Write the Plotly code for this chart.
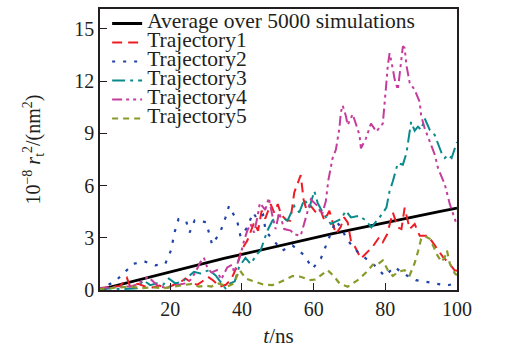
import plotly.graph_objects as go

# ---------------- data ----------------
avg_t = [0, 5, 10, 15, 20, 25, 30, 35, 40, 45, 50, 55, 60, 65, 70, 75, 80, 85, 90, 95, 100]
avg_v = [0.0, 0.26, 0.53, 0.80, 1.06, 1.32, 1.57, 1.82, 2.05, 2.29, 2.53, 2.77, 3.0, 3.22, 3.44, 3.66, 3.87, 4.08, 4.29, 4.50, 4.70]

tr1_t = [0, 3, 6, 7.9, 8.8, 11, 13, 15, 17, 19, 21, 22.5, 24.2, 25.8, 27.5, 29, 30.5, 32, 33.8, 35.5, 37,
         38.5, 39.8, 41.5, 43.4, 44.5, 45.5, 46.5, 48, 49, 50, 51, 52.5, 53.5, 54.6, 56.4, 57.2, 58, 59.2,
         61, 62, 63, 64.4, 66.2, 67.5, 68.5, 69.5, 70.4, 71.5, 73.2, 75.1, 76.5, 78.3, 79.3, 80.5, 82.1,
         83.5, 84.5, 85.4, 86.8, 88.2, 89.6, 91.9, 94.5, 96.1, 97.5, 99.3, 100]
tr1_v = [0.1, 0.15, 0.23, 0.7, 0.2, 0.35, 0.2, 0.15, 0.25, 0.1, 0.3, 0.4, 0.66, 0.45, 0.3, 0.5, 0.76, 0.55, 0.19, 0.3, 0.6,
         1.3, 2.27, 2.84, 3.88, 3.4, 4.55, 4.1, 4.93, 4.45, 4.93, 4.3, 4.0, 3.98, 5.6, 6.6, 5.2, 4.6, 4.83,
         4.36, 4.55, 4.0, 4.55, 3.22, 3.6, 4.17, 3.88, 2.84, 2.5, 1.8, 2.18, 2.5, 3.03, 2.75, 3.2, 4.45,
         3.6, 3.5, 4.73, 3.5, 3.79, 3.12, 3.12, 2.4, 1.89, 1.6, 1.14, 1.1]

tr2_t = [0, 2, 5, 7, 9.7, 12.7, 15.8, 18.6, 20.3, 21.1, 22.3, 24.4, 25.4, 26.8, 30, 31.7, 34, 35.4, 36.4,
         38.7, 39.6, 41.5, 43.1, 44.3, 45.9, 46.6, 48, 51.3, 54.1, 57.4, 59.7, 62, 64.8, 66.2, 67.6, 69.5,
         72.3, 74.6, 77.5, 79.8, 82.6, 84.9, 88.5, 92.9, 97, 100]
tr2_v = [0.05, 0.2, 0.57, 0.98, 1.5, 1.65, 1.42, 1.5, 2.33, 3.24, 4.07, 3.98, 3.3, 4.0, 3.9, 2.6, 3.35, 4.16, 4.83,
         3.94, 3.07, 3.6, 4.45, 4.07, 4.32, 3.41, 3.03, 2.27, 2.56, 1.99, 1.23, 1.8, 3.3, 3.98, 3.6, 2.84,
         2.18, 1.8, 1.33, 0.8, 1.33, 0.95, 0.57, 0.42, 0.25, 0.4]

tr3_t = [0, 3, 6, 9, 10.7, 12.5, 14.4, 16.3, 18, 19.6, 21.4, 23.3, 25, 26.6, 28.4, 30.8, 32.6, 34, 35.4,
         36.8, 38, 39.2, 41, 42.4, 44.3, 45.2, 46.2, 47.1, 48.5, 49.9, 50.8, 52.7, 54.6, 56, 57.4, 58.8,
         60.2, 61.1, 62.5, 64.8, 67.6, 69, 70.4, 72.8, 74.6, 76.1, 78.4, 80.3, 81.2, 82.1, 83.5, 84.9,
         85.9, 87.2, 88.2, 89.1, 90, 91, 92.4, 93.8, 94.3, 95.7, 96.6, 97.5, 98.5, 99.6, 100]
tr3_v = [0.05, 0.1, 0.05, 0.1, 0.1, 0.57, 0.28, 0.38, 0.3, 0.66, 0.38, 0.47, 0.75, 1.04, 0.95, 1.14, 0.85, 0.5, 0.1,
         0.38, 0.5, 1.33, 1.85, 1.5, 2.08, 2.27, 2.84, 3.41, 3.98, 4.26, 4.26, 3.98, 4.83, 4.45, 5.21, 4.73,
         5.68, 5.02, 4.45, 3.79, 4.07, 4.55, 4.17, 4.26, 3.98, 3.6, 4.17, 4.73, 5.68, 6.25, 7.29, 7.2,
         7.86, 9.66, 9.15, 9.38, 9.2, 9.85, 9.2, 8.9, 8.62, 7.86, 7.58, 7.77, 7.58, 8.33, 8.5]

tr4_t = [0, 3, 6, 9, 11, 12.5, 13.9, 15.3, 16.8, 18.5, 20, 21.9, 24.2, 25.6, 27, 28.4, 29.4, 30.3, 31.5, 33,
         34.2, 35.9, 37.3, 37.8, 39.6, 40.6, 41.5, 42.4, 43.4, 44.3, 45, 46.5, 47.5, 48.5, 49.4, 50.4, 51.8,
         53.6, 54.6, 56.4, 57.4, 58.3, 59.2, 60.2, 61.1, 62.3, 63.4, 64.1, 64.8, 65.3, 66.2, 66.7, 67.2,
         67.6, 68.1, 69, 69.5, 70.9, 71.8, 72.8, 73.2, 74.6, 76, 77.5, 79.3, 79.8, 80.3, 80.7, 81.2, 82.1,
         82.6, 83.5, 84, 84.5, 84.9, 85.4, 85.9, 86.8, 88.2, 89.6, 90, 91, 92.4, 93.8, 94.7, 95.7, 96.6,
         98, 99.4, 100]
tr4_v = [0.1, 0.15, 0.19, 0.2, 0.35, 0.6, 0.76, 0.47, 0.2, 0.15, 0.2, 0.28, 0.38, 0.57, 1.0, 1.6, 1.85, 1.3, 1.0, 1.14,
         0.6, 1.3, 1.45, 1.0, 2.0, 2.84, 3.41, 3.79, 3.3, 4.17, 5.0, 4.6, 5.3, 4.26, 3.5, 4.45, 3.5,
         3.41, 3.2, 3.12, 3.79, 4.5, 5.2, 5.0, 4.83, 4.3, 5.1, 6.3, 7.0, 7.58, 8.05, 8.71, 9.3,
         10.2, 10.6, 10.0, 9.47, 10.1, 9.47, 8.9, 8.14, 8.71, 9.56, 9.1, 9.56, 10.6, 11.9, 12.9, 13.6, 12.7,
         12.1, 11.5, 12.5, 13.4, 14.0, 13.9, 12.9, 11.9, 11.5, 10.8, 10.0, 9.28, 8.52, 7.77, 7.0, 6.44, 6.06,
         4.93, 3.98, 3.7]

tr5_t = [0, 3, 6, 9, 12, 15, 18, 21, 24.2, 26, 28, 30, 31.5, 33.6, 35.9, 37.8, 38.7, 39.4, 41, 43.8, 46.2,
         48.5, 49.9, 51.8, 54.1, 56.4, 58.8, 60.5, 62, 63.9, 65.8, 67.2, 69.5, 72.3, 74.6, 76.5, 77.5, 79.3,
         80.7, 82.1, 83.5, 85.4, 86.8, 88.2, 89.1, 90, 91, 92.4, 93.3, 94.5, 95.7, 96.6, 97.2, 98, 99.4, 100]
tr5_v = [0.05, 0.1, 0.15, 0.2, 0.1, 0.15, 0.1, 0.2, 0.28, 0.35, 0.19, 0.25, 0.2, 0.38, 0.19, 0.38, 0.85, 1.14, 0.66, 0.47, 0.3,
         0.28, 0.38, 0.57, 0.8, 0.76, 0.57, 0.6, 0.85, 1.14, 0.76, 0.38, 0.19, 0.57, 1.0, 1.45, 1.42, 1.7,
         1.14, 0.8, 1.04, 1.14, 0.85, 1.55, 2.2, 2.94, 3.1, 2.94, 2.56, 2.0, 1.61, 1.89, 2.27, 1.52, 0.95, 0.85]

names = ["Average over 5000 simulations", "Trajectory1", "Trajectory2",
         "Trajectory3", "Trajectory4", "Trajectory5"]
x_ticks = [20, 40, 60, 80, 100]
y_ticks = [0, 3, 6, 9, 12, 15]

# ---------------- figure ----------------
FONT = "Liberation Serif, Times New Roman, serif"
series = [
    (avg_t, avg_v, "#000000", "solid", 2.8),
    (tr1_t, tr1_v, "#ee1c24", "10px,6px", 2),
    (tr2_t, tr2_v, "#1f43a8", "3px,8px", 2.2),
    (tr3_t, tr3_v, "#0a8a8c", "13px,5px,3px,5px", 2),
    (tr4_t, tr4_v, "#c43c9c", "10px,4px,3px,4px,3px,4px", 2),
    (tr5_t, tr5_v, "#8a9a2a", "6px,5px", 2.2),
]

fig = go.Figure()
for (t, v, c, d, w), nm in zip(series, names):
    fig.add_trace(go.Scatter(
        x=t, y=v, mode="lines", name='<span style="font-size:21.5px">' + nm + "</span>",
        line=dict(color=c, dash=d, width=w),
    ))

axis_common = dict(
    showline=True, linecolor="#231f20", linewidth=1.5, mirror=True,
    ticks="inside", ticklen=7, tickwidth=1.3, tickcolor="#231f20",
    showgrid=False, zeroline=False,
    tickfont=dict(family=FONT, size=20, color="#231f20"),
)

fig.update_layout(
    width=525, height=352,
    margin=dict(l=100, r=68, t=7, b=62),
    paper_bgcolor="white", plot_bgcolor="white",
    font=dict(family=FONT, color="#231f20"),
    showlegend=True,
    legend=dict(
        x=0.02, y=1.0, xanchor="left", yanchor="top",
        bgcolor="rgba(0,0,0,0)", borderwidth=0,
        font=dict(family=FONT, size=12, color="#231f20"),
        tracegroupgap=0,
    ),
    xaxis=dict(
        range=[0.4, 100], tickvals=x_ticks, ticktext=[str(v) for v in x_ticks],
        title=dict(text="<i>t</i>/ns", font=dict(family=FONT, size=21), standoff=10),
        **axis_common,
    ),
    yaxis=dict(
        range=[0, 16.14], tickvals=y_ticks, ticktext=[str(v) for v in y_ticks],
        title=dict(text="10<sup>−8</sup> <i>r</i><sub>t</sub><sup>2</sup>/(nm<sup>2</sup>)",
                   font=dict(family=FONT, size=20), standoff=28),
        **axis_common,
    ),
)

fig.write_html("out.html")
